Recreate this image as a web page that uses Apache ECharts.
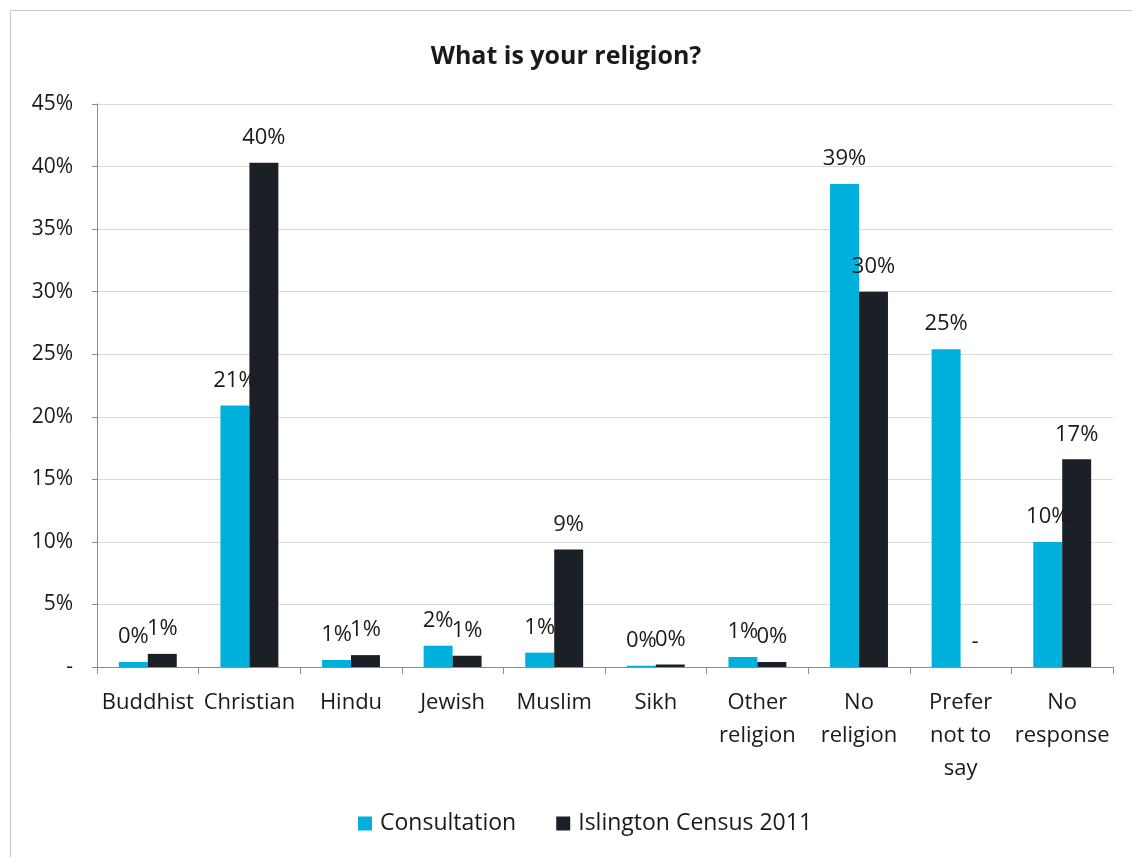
<!DOCTYPE html>
<html>
<head>
<meta charset="utf-8">
<script src="https://cdn.jsdelivr.net/npm/echarts@6/dist/echarts.min.js"></script>
<style>html,body{margin:0;padding:0;background:#fff}#c{width:1132px;height:857px}</style>
</head>
<body>
<div id="c"></div>
<script>
const categories = ['Buddhist', 'Christian', 'Hindu', 'Jewish', 'Muslim', 'Sikh', 'Other\nreligion', 'No\nreligion', 'Prefer\nnot to\nsay', 'No\nresponse'];
const consultation = [0.4, 20.9, 0.56, 1.7, 1.15, 0.1, 0.8, 38.6, 25.4, 10.0];
const census2011 = [1.05, 40.3, 0.95, 0.9, 9.4, 0.2, 0.4, 30.0, 0, 16.6];
const seriesNames = ['Consultation', 'Islington Census 2011'];
const yTicks = { min: 0, max: 45, interval: 5 };

const FONT = 'Open Sans';
const fmtPct = v => (v === 0 ? '-' : Math.round(v) + '%');
const chart = echarts.init(document.getElementById('c'), null, { renderer: 'canvas' });

const lbl = {
  show: true, position: 'top', distance: 14,
  fontFamily: FONT, fontSize: 22, color: '#1a1a1a',
  formatter: p => fmtPct(p.value)
};

chart.setOption({
  animation: false,
  backgroundColor: '#fff',
  textStyle: { fontFamily: FONT },
  graphic: [{
    type: 'rect', shape: { x: 10.5, y: 10.5, width: 1140, height: 900 },
    style: { fill: 'none', stroke: '#c8c8c8', lineWidth: 1 }, silent: true, z: -1
  }],
  title: {
    text: 'What is your religion?', left: 'center', top: 39,
    textStyle: { fontFamily: FONT, fontSize: 25, fontWeight: 'bold', color: '#1a1a1a' }
  },
  legend: {
    data: seriesNames, bottom: 17, left: 353, itemWidth: 14, itemHeight: 14,
    itemGap: 40, icon: 'rect',
    textStyle: { fontFamily: FONT, fontSize: 23, color: '#1a1a1a', padding: [0, 0, 0, 3] }
  },
  grid: { left: 97, right: 19, top: 104, bottom: 190 },
  xAxis: {
    type: 'category', data: categories,
    axisLine: { lineStyle: { color: '#8c8c8c', width: 1 } },
    axisTick: { show: true, length: 7, lineStyle: { color: '#8c8c8c' } },
    axisLabel: { interval: 0, margin: 19, fontFamily: FONT, fontSize: 22, color: '#1a1a1a', lineHeight: 33 }
  },
  yAxis: {
    type: 'value', min: yTicks.min, max: yTicks.max, interval: yTicks.interval,
    axisLine: { show: true, lineStyle: { color: '#8c8c8c', width: 1 } },
    axisTick: { show: true, length: 5, lineStyle: { color: '#8c8c8c' } },
    splitLine: { lineStyle: { color: '#d9d9d9', width: 1 } },
    axisLabel: { margin: 24, fontFamily: FONT, fontSize: 21, color: '#1a1a1a', formatter: v => (v === 0 ? '-' : v + '%') }
  },
  series: [
    { name: seriesNames[0], type: 'bar', data: consultation, barWidth: '28.5%', barGap: '0%',
      itemStyle: { color: '#00b0dc' }, label: lbl },
    { name: seriesNames[1], type: 'bar', data: census2011, barWidth: '28.5%', barGap: '0%',
      itemStyle: { color: '#1b1f26' }, label: lbl }
  ]
});
</script>
</body>
</html>
